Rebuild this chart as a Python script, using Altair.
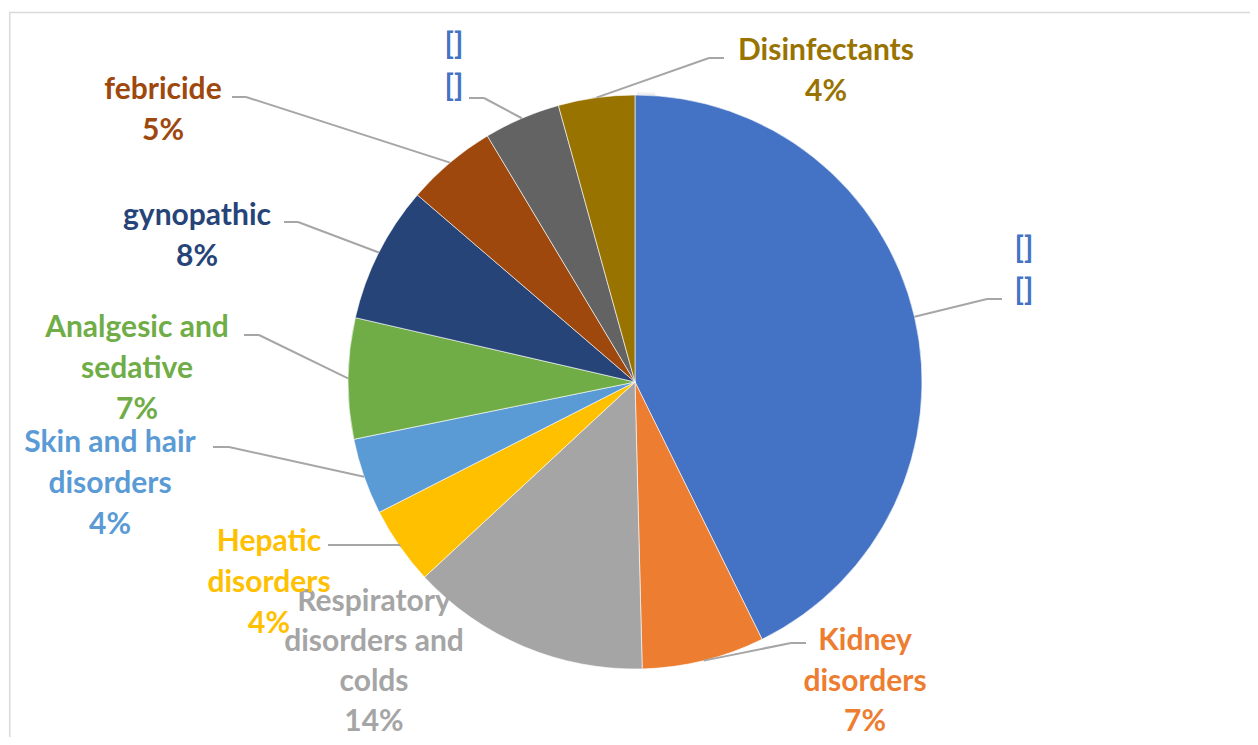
import math
import altair as alt
import pandas as pd

# ---- data ----
names = ["[]\n[]", "Kidney\ndisorders", "Respiratory\ndisorders and\ncolds", "Hepatic\ndisorders",
         "Skin and hair\ndisorders", "Analgesic and\nsedative", "gynopathic", "febricide", "[]\n[]",
         "Disinfectants"]
values = [42.7, 6.9, 13.5, 4.4, 4.3, 6.8, 7.7, 5.1, 4.3, 4.3]
pct_labels = ["", "7%", "14%", "4%", "4%", "7%", "8%", "5%", "", "4%"]

# ---- styles / layout ----
slice_colors = ["#4472C4", "#ED7D31", "#A5A5A5", "#FFC000", "#5B9BD5", "#70AD47",
                "#264478", "#9E480E", "#636363", "#997300"]
label_colors = ["#4472C4", "#ED7D31", "#A5A5A5", "#FFC000", "#5B9BD5", "#70AD47",
                "#264478", "#9E480E", "#4472C4", "#997300"]
M = 8  # page margin
CX, CY, R = 634 - M, 382 - M, 287
FONT = "Lato"
FS = 30
# label block anchors (page px): centre x, first-line y, line spacing
label_anchor = [(1023, 249, 42), (864, 641, 40.5), (373, 602, 40), (268, 542, 41), (109, 443, 41),
                (136, 328, 41), (196, 216, 41), (162, 90, 41), (453, 45, 42), (825, 51, 41)]
# leader lines: elbow and end (page px); None = no leader
leader = [((986, 299), (1001, 299)), ((790, 643), (805, 643)), None,
          ((399, 545), (327, 545)), ((228, 447), (212, 447)), ((258, 335), (243, 335)),
          ((297, 222), (283, 222)), ((245, 97), (231, 97)), ((483, 98), (468, 98)),
          ((708, 58), (723, 58))]

W, H = 1258 - 2 * M, 745 - 2 * M

df = pd.DataFrame({"idx": list(range(len(values))), "value": values})

color_scale = alt.Scale(domain=list(range(len(values))), range=slice_colors)

base = alt.Chart(df)

shadow_layers = []
for k, op in enumerate([0.05, 0.05, 0.05, 0.05]):
    shadow_layers.append(
        alt.Chart(pd.DataFrame({"v": [1]})).mark_arc(
            outerRadius=R + 1 + 2 * k, color="#000000", opacity=op, strokeWidth=0
        ).encode(theta=alt.Theta("v:Q"), x=alt.value(CX + 2), y=alt.value(CY + 4))
    )

pie = base.mark_arc(outerRadius=R, stroke="#ffffff", strokeWidth=0.6).encode(
    theta=alt.Theta("value:Q", stack=True),
    order=alt.Order("idx:Q"),
    color=alt.Color("idx:N", scale=color_scale, legend=None),
    x=alt.value(CX),
    y=alt.value(CY),
)

# leader line segments (start point derived from the slice mid-angle)
total = sum(values)
segs = []
cum = 0.0
for i, v in enumerate(values):
    mid = (cum + v / 2) / total * 2 * math.pi
    cum += v
    if leader[i] is None:
        continue
    sx, sy = CX + R * math.sin(mid), CY - R * math.cos(mid)
    (ex, ey), (tx, ty) = leader[i]
    ex, ey, tx, ty = ex - M, ey - M, tx - M, ty - M
    segs.append({"x": sx, "y": sy, "x2": ex, "y2": ey})
    segs.append({"x": ex, "y": ey, "x2": tx, "y2": ty})
seg_df = pd.DataFrame(segs)
leaders = alt.Chart(seg_df).mark_rule(color="#A6A6A6", strokeWidth=2).encode(
    x=alt.X("x:Q", scale=None), y=alt.Y("y:Q", scale=None),
    x2="x2:Q", y2="y2:Q",
)

# label text rows
rows = []
for i in range(len(values)):
    lines = names[i].split("\n") + ([pct_labels[i]] if pct_labels[i] else [])
    ax, ay, lh = label_anchor[i]
    for j, t in enumerate(lines):
        rows.append({"t": t, "x": ax - M, "y": ay - M + j * lh, "c": label_colors[i], "o": i})
lab_df = pd.DataFrame(rows)
labels = alt.Chart(lab_df).mark_text(
    font=FONT, fontSize=FS, fontWeight="bold", align="center", baseline="middle"
).encode(
    x=alt.X("x:Q", scale=None), y=alt.Y("y:Q", scale=None),
    text="t:N", color=alt.Color("c:N", scale=None),
)

frame = alt.Chart(pd.DataFrame({"a": [0]})).mark_rule(color="#D9D9D9", strokeWidth=1.5).encode(
    x=alt.value(0), x2=alt.value(W), y=alt.value(4.5)
)
frame_l = alt.Chart(pd.DataFrame({"a": [0]})).mark_rule(color="#D9D9D9", strokeWidth=1.5).encode(
    x=alt.value(0.75), y=alt.value(4.5), y2=alt.value(H)
)

chart = alt.layer(frame, frame_l, *shadow_layers, pie, leaders, labels).properties(
    width=W, height=H,
    autosize=alt.AutoSizeParams(type="fit", contains="padding"),
    padding=0,
    background="#ffffff",
).configure_view(stroke=None)

chart.save("out.html", embed_options={"renderer": "svg", "actions": False})
